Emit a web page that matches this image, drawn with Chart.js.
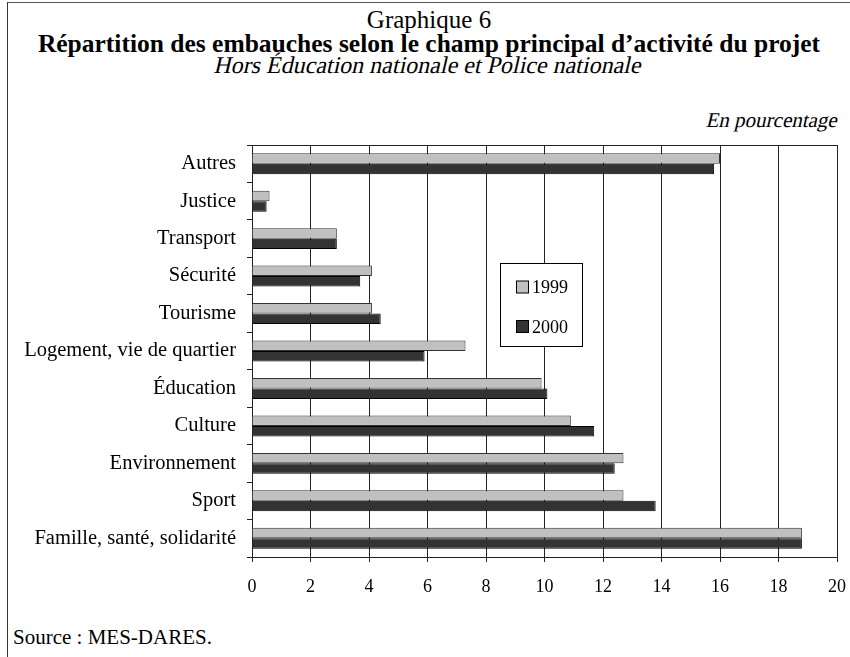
<!DOCTYPE html>
<html>
<head>
<meta charset="utf-8">
<script src="https://cdn.jsdelivr.net/npm/chart.js@4.4.1/dist/chart.umd.min.js"></script>
<style>
  html, body { margin: 0; padding: 0; background: #fff; }
  #wrap { position: relative; width: 850px; height: 657px; overflow: hidden; font-family: "Liberation Serif", "Times New Roman", serif; color: #000; }
  #frame { position: absolute; left: 7px; top: 2px; width: 850px; height: 700px; border-left: 1px solid #333; border-top: 1px solid #555; }
  .t { position: absolute; left: 8px; width: 842px; text-align: center; white-space: nowrap; line-height: 1; }
  /* no serif italic face installed: slant the roman face instead */
  .it { display: inline-block; transform: skewX(-13deg); font-family: "Liberation Serif", serif; font-style: normal; }
  #t1 { top: 7px; font-size: 25px; }
  #t2 { top: 31px; font-size: 25.5px; font-weight: bold; }
  #t3 { top: 53px; font-size: 24px; }
  #unit { position: absolute; right: 12px; top: 110px; font-size: 21px; line-height: 1; white-space: nowrap; }
  #source { position: absolute; left: 13px; top: 627px; font-size: 21px; line-height: 1; }
  canvas { position: absolute; left: 0; top: 0; }
</style>
</head>
<body>
<div id="wrap">
  <div id="frame"></div>
  <div class="t" id="t1">Graphique 6</div>
  <div class="t" id="t2">Répartition des embauches selon le champ principal d’activité du projet</div>
  <div class="t" id="t3"><span class="it">Hors Éducation nationale et Police nationale</span></div>
  <div id="unit"><span class="it">En pourcentage</span></div>
  <div id="source">Source : MES-DARES.</div>
  <canvas id="chart" width="850" height="657"></canvas>
</div>
<script>
// categories, top to bottom
var categories = ['Autres', 'Justice', 'Transport', 'Sécurité', 'Tourisme',
    'Logement, vie de quartier', 'Éducation', 'Culture', 'Environnement', 'Sport',
    'Famille, santé, solidarité'];
var values1999 = [16.0, 0.6, 2.9, 4.1, 4.1, 7.3, 9.9, 10.9, 12.7, 12.7, 18.8];
var values2000 = [15.8, 0.5, 2.9, 3.7, 4.4, 5.9, 10.1, 11.7, 12.4, 13.8, 18.8];
var xTicks = [0, 2, 4, 6, 8, 10, 12, 14, 16, 18, 20];

var FONT = '"Liberation Serif", "Times New Roman", serif';

// top border of the plot area
var topFrame = {
    id: 'topFrame',
    beforeDatasetsDraw: function (chart) {
        var a = chart.chartArea, ctx = chart.ctx;
        ctx.save();
        ctx.strokeStyle = '#222';
        ctx.lineWidth = 1;
        ctx.beginPath();
        ctx.moveTo(a.left, Math.round(a.top) + 0.5);
        ctx.lineTo(a.right + 0.5, Math.round(a.top) + 0.5);
        ctx.stroke();
        ctx.restore();
    }
};

// boxed legend sitting inside the plot
var boxLegend = {
    id: 'boxLegend',
    afterDraw: function (chart) {
        var ctx = chart.ctx;
        var x = 500.5, y = 263.5, w = 82, h = 83;
        ctx.save();
        ctx.fillStyle = '#fff';
        ctx.fillRect(x, y, w, h);
        ctx.strokeStyle = '#000';
        ctx.lineWidth = 1;
        ctx.strokeRect(x, y, w, h);
        ctx.font = '18px ' + FONT;
        ctx.textBaseline = 'middle';
        chart.data.datasets.forEach(function (ds, i) {
            var cy = 287.5 + i * 39.5;
            ctx.fillStyle = ds.backgroundColor;
            ctx.fillRect(516.5, cy - 6.5, 12, 12);
            ctx.strokeStyle = '#000';
            ctx.strokeRect(516.5, cy - 6.5, 12, 12);
            ctx.fillStyle = '#000';
            ctx.fillText(ds.label, 532, cy + 1);
        });
        ctx.restore();
    }
};

new Chart(document.getElementById('chart'), {
    type: 'bar',
    data: {
        labels: categories,
        datasets: [
            { label: '1999', data: values1999, backgroundColor: '#c0c0c0', borderColor: '#333', borderWidth: 1 },
            { label: '2000', data: values2000, backgroundColor: '#333333', borderColor: '#000', borderWidth: 1 }
        ]
    },
    options: {
        indexAxis: 'y',
        responsive: false,
        animation: false,
        categoryPercentage: 0.56,
        barPercentage: 1,
        layout: { padding: { left: 0, top: 145, right: 13, bottom: 64 } },
        plugins: { legend: { display: false }, title: { display: false }, tooltip: { enabled: false } },
        scales: {
            x: {
                min: 0, max: 20,
                afterBuildTicks: function (s) { s.ticks = xTicks.map(function (v) { return { value: v }; }); },
                afterFit: function (s) { s.height = 36; s.paddingLeft = 0; s.paddingRight = 0; },
                grid: { color: '#222', lineWidth: 1, tickLength: 5, tickColor: '#222' },
                border: { color: '#222' },
                ticks: { color: '#000', padding: 14, font: { family: FONT, size: 18 } }
            },
            y: {
                afterFit: function (s) { s.width = 252; },
                grid: { offset: true, drawOnChartArea: false, tickLength: 5, tickColor: '#222' },
                border: { color: '#222' },
                ticks: { color: '#000', padding: 11, font: { family: FONT, size: 20.5 } }
            }
        }
    },
    plugins: [topFrame, boxLegend]
});
</script>
</body>
</html>
